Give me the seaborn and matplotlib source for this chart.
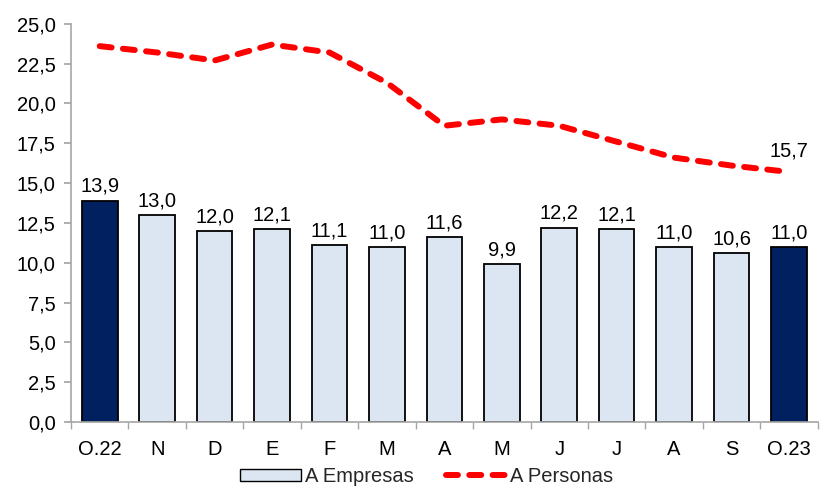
import numpy as np
import pandas as pd
import matplotlib
matplotlib.use("Agg")
import matplotlib.pyplot as plt
import seaborn as sns
from matplotlib.ticker import FixedLocator, FuncFormatter
from matplotlib.patches import Patch
from matplotlib.lines import Line2D

meses = ["O.22", "N", "D", "E", "F", "M", "A", "M", "J", "J", "A", "S", "O.23"]
empresas = [13.9, 13.0, 12.0, 12.1, 11.1, 11.0, 11.6, 9.9, 12.2, 12.1, 11.0, 10.6, 11.0]
personas = [23.6, 23.2, 22.7, 23.7, 23.2, 21.3, 18.6, 19.0, 18.6, 17.6, 16.6, 16.1, 15.7]

sns.set_theme(style="white")
plt.rcParams["font.family"] = ["Liberation Sans", "DejaVu Sans"]
FS = 14.5

df = pd.DataFrame({"pos": range(len(meses)), "mes": meses, "empresas": empresas})
colores = ["#002060" if i in (0, len(meses) - 1) else "#DCE6F2" for i in range(len(meses))]

fig = plt.figure(figsize=(8.21, 4.97), dpi=100)
ax = fig.add_axes([0.0865, 0.151, 0.9095, 0.801])

sns.barplot(data=df, x="pos", y="empresas", hue="pos", palette=colores, legend=False,
            saturation=1, width=0.62, edgecolor="black", linewidth=1.3, ax=ax, zorder=2)
dash = (0, (2.0, 1.9))
ax.plot(range(len(meses)), personas, color="#FF0000", lw=4.3, ls=dash,
        dash_capstyle="round", zorder=3)

def fmt(v):
    return f"{v:.1f}".replace(".", ",")

for i, v in enumerate(empresas):
    ax.text(i, v + 0.3, fmt(v), ha="center", va="bottom", fontsize=FS, color="black")
ax.text(len(meses) - 1, personas[-1] + 0.75, fmt(personas[-1]), ha="center", va="bottom",
        fontsize=FS, color="black")

ax.set_xlim(-0.5, len(meses) - 0.5)
ax.set_ylim(0, 25)
ax.set_yticks(np.arange(0, 25.01, 2.5))
ax.yaxis.set_major_formatter(FuncFormatter(lambda v, p: fmt(v)))
ax.set_xticks(range(len(meses)))
ax.set_xticklabels(meses)
ax.xaxis.set_minor_locator(FixedLocator(np.arange(-0.5, len(meses), 1.0)))
ax.set_xlabel("")
ax.set_ylabel("")

for s in ["top", "right"]:
    ax.spines[s].set_visible(False)
for s in ["left", "bottom"]:
    ax.spines[s].set_color("#A6A6A6")
    ax.spines[s].set_linewidth(1.2)

ax.tick_params(axis="y", which="major", left=True, length=5, color="#A6A6A6",
               labelsize=FS, labelcolor="black", pad=6)
ax.tick_params(axis="x", which="major", bottom=False, labelsize=FS, labelcolor="black", pad=7)
ax.tick_params(axis="x", which="minor", bottom=True, length=5, color="#A6A6A6")

handles = [Patch(facecolor="#DCE6F2", edgecolor="black", label="A Empresas"),
           Line2D([0], [0], color="#FF0000", lw=4.3, ls=dash, dash_capstyle="round",
                  label="A Personas")]
fig.legend(handles=handles, loc="lower center", bbox_to_anchor=(0.52, 0.002), ncol=2,
           frameon=False, fontsize=FS, handlelength=3.0, handleheight=0.5, handletextpad=0.2,
           columnspacing=1.6, borderpad=0)

fig.savefig("out.png", dpi=100)
